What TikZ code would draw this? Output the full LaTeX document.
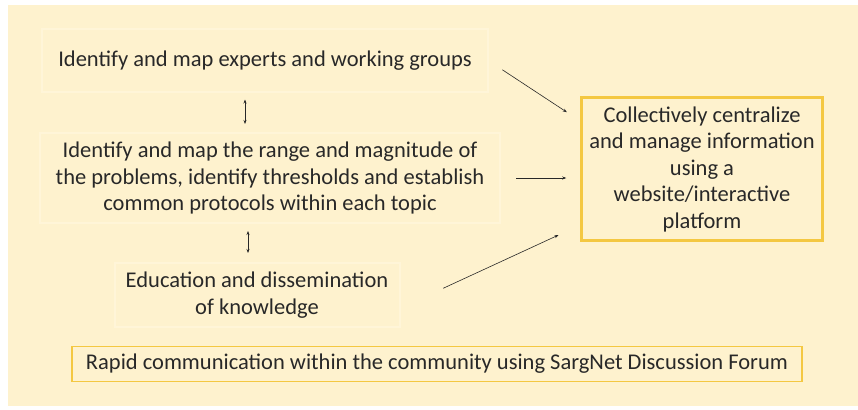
\documentclass[tikz,border=0pt]{standalone}
\usepackage{fontspec}
\setmainfont{Carlito}
\usepackage{tikz}
\usetikzlibrary{arrows.meta}
\definecolor{cream}{RGB}{254, 242, 206}
\definecolor{paleedge}{RGB}{255, 245, 216}
\definecolor{gold}{RGB}{244, 200, 66}
\definecolor{ink}{RGB}{40, 40, 40}

\begin{document}
\begin{tikzpicture}[x=1pt, y=-1pt, font=\fontsize{22.5}{26.5}\selectfont,
    faintbox/.style={draw=paleedge, line width=2pt, align=center, text=ink},
    goldbox/.style={draw=gold, line width=2.5pt, align=center, text=ink},
    link/.style={draw=ink, line width=0.6pt, -{Stealth[length=4pt, width=3pt]}},
    twoway/.style={draw=ink, line width=0.6pt, {Stealth[length=4pt, width=3pt]}-{Stealth[length=4pt, width=3pt]}}]
        % Background
        \fill[white] (0,0) rectangle (858,409);
        \fill[cream] (8,5) rectangle (858,406);
        \useasboundingbox (0,0) rectangle (858,409);

        % Boxes on the left
        \node[faintbox, minimum width=446pt, minimum height=63pt] (experts) at (265,61)
            {Identify and map experts and working groups};
        \node[faintbox, minimum width=460pt, minimum height=90pt] (range) at (270,178)
            {Identify and map the range and magnitude of\\
             the problems, identify thresholds and establish\\
             common protocols within each topic};
        \node[faintbox, minimum width=285pt, minimum height=64pt] (education) at (257,295)
            {Education and dissemination\\ of knowledge};

        % Platform box on the right
        \node[goldbox, minimum width=241pt, minimum height=143pt] (platform) at (702,169)
            {Collectively centralize\\ and manage information\\ using a\\
             website/interactive\\ platform};

        % Forum box at the bottom
        \node[goldbox, line width=1.8pt, minimum width=730pt, minimum height=35pt] (forum) at (437,364)
            {Rapid communication within the community using SargNet Discussion Forum};

        % Two-way links between the left boxes
        \draw[twoway, shorten <=6pt, shorten >=8pt] ([xshift=-20pt]experts.south)
            -- ([xshift=-20pt]experts.south |- range.north);
        \draw[twoway, shorten <=7pt, shorten >=9pt] ([xshift=-22pt]range.south)
            -- ([xshift=-22pt]range.south |- education.north);

        % Links into the platform
        \draw[link, shorten <=16pt, shorten >=16pt] (experts.east) -- ([yshift=48pt]platform.west);
        \draw[link, shorten <=15pt, shorten >=14pt] (range.east) -- ([yshift=-9pt]platform.west);
        \draw[link, shorten <=47pt, shorten >=24pt] ([yshift=-13pt]education.east) -- ([yshift=-56pt]platform.west);
    \end{tikzpicture}
\end{document}
